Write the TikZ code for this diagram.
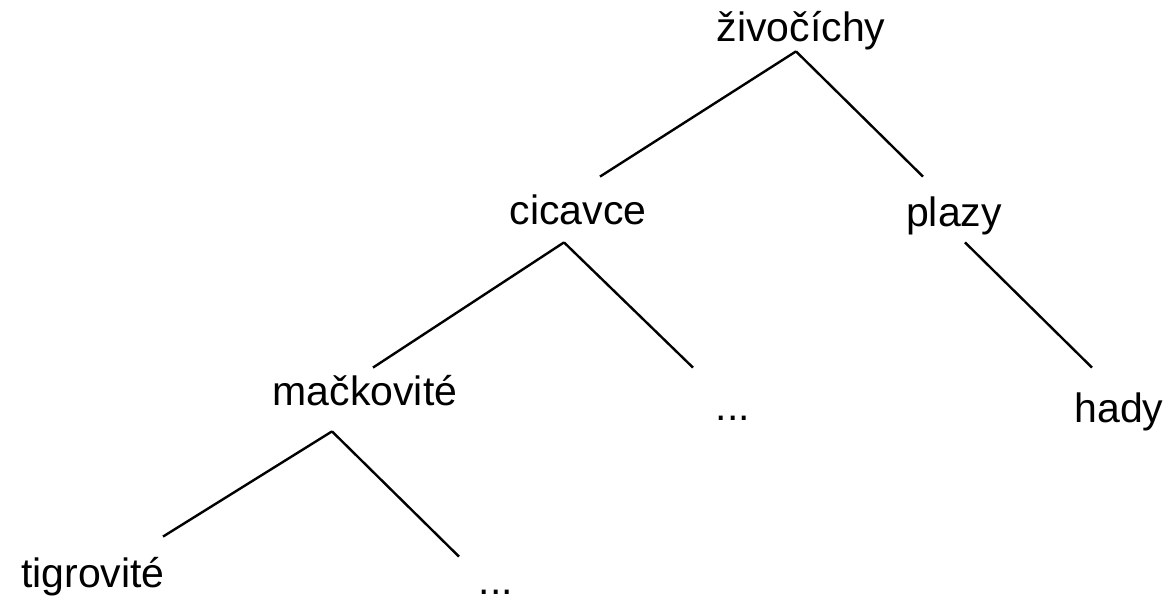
\documentclass[tikz,border=0pt]{standalone}
\usepackage{fontspec}
\setmainfont{Liberation Sans}

\begin{document}
\begin{tikzpicture}[x=0.5pt, y=-0.5pt,
        taxon/.style={inner sep=0pt, anchor=base, text height=15pt, text depth=4.5pt,
                      font=\fontsize{20.5}{24}\selectfont},
        more/.style={taxon, text depth=0pt},
        branch/.style={line width=1.2pt}]
        \useasboundingbox (0,0) rectangle (1173,603);

        \node[taxon] (z1) at (801,42) {živočíchy};
        \node[taxon] (c1) at (578,225) {cicavce};
        \node[taxon] (p1) at (954,227) {plazy};
        \node[taxon] (m1) at (365,406) {mačkovité};
        \node[more]  (d1) at (733,421) {...};
        \node[taxon] (h1) at (1119,423) {hady};
        \node[taxon] (t1) at (93,588) {tigrovité};
        \node[more]  (d2) at (496,595) {...};

        \draw [branch] ([shift={(-5,0)}]z1.south) -- ([shift={(22,-18)}]c1.north);
        \draw [branch] ([shift={(-5,0)}]z1.south) -- ([shift={(-31,-20)}]p1.north);
        \draw [branch] ([shift={(-14,8)}]c1.south) -- ([shift={(8,-8)}]m1.north);
        \draw [branch] ([shift={(-14,8)}]c1.south) -- ([shift={(-40,-23)}]d1.north);
        \draw [branch] ([shift={(11,6)}]p1.south) -- ([shift={(-27,-25)}]h1.north);
        \draw [branch] ([shift={(-33,16)}]m1.south) -- ([shift={(70,-21)}]t1.north);
        \draw [branch] ([shift={(-33,16)}]m1.south) -- ([shift={(-37,-8)}]d2.north);

\end{tikzpicture}
\end{document}
